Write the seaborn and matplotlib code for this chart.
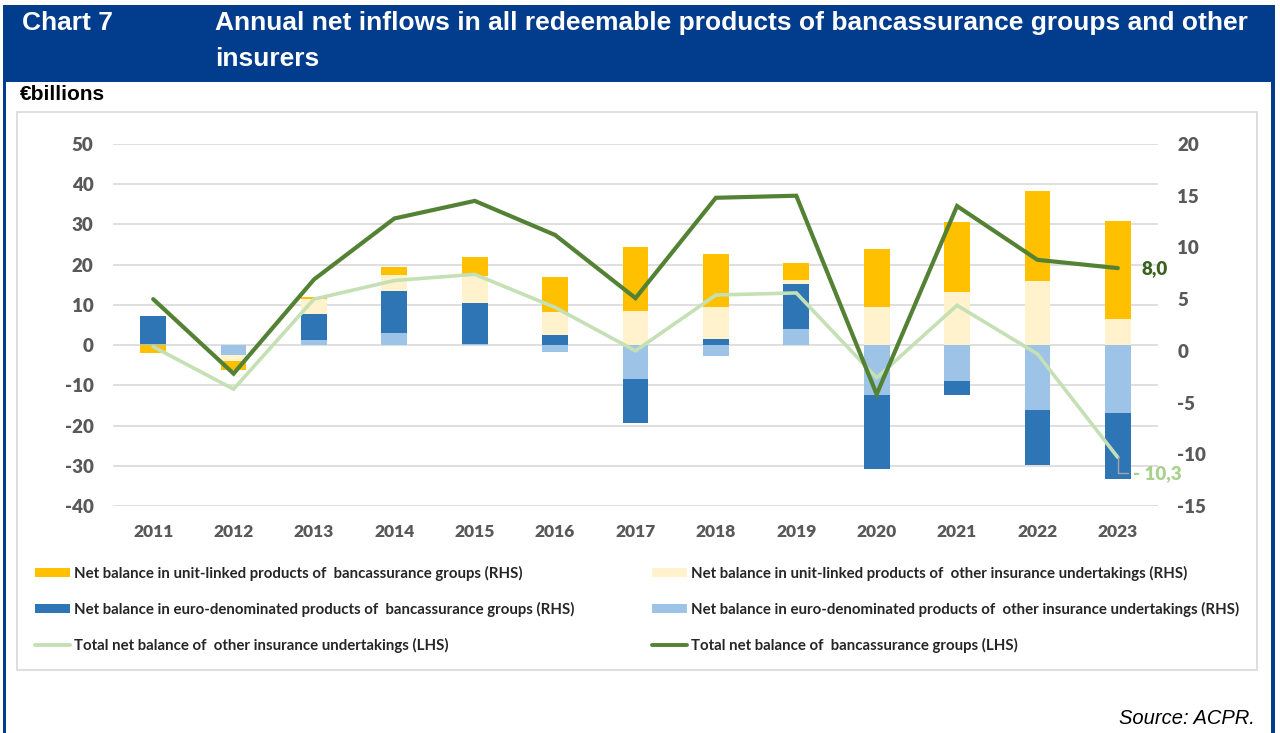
import matplotlib
matplotlib.use("Agg")
import matplotlib.pyplot as plt
from matplotlib.patches import Rectangle, Patch
from matplotlib.lines import Line2D
import numpy as np
import pandas as pd
import seaborn as sns

# ---- data (EUR billions) ----
years = ["2011", "2012", "2013", "2014", "2015", "2016", "2017",
         "2018", "2019", "2020", "2021", "2022", "2023"]
ul_banc = [-1.9, -2.2, 0.5, 2.0, 4.5, 8.7, 16.0, 13.3, 4.0, 14.4, 17.5, 22.3, 24.4]
ul_other = [0.0, -1.4, 3.8, 4.0, 6.9, 5.8, 8.4, 8.0, 1.2, 9.5, 13.1, 15.9, 6.5]
euro_banc = [7.1, 0.0, 6.5, 10.5, 10.0, 2.5, -10.8, 1.4, 11.0, -18.5, -3.5, -13.6, -16.4]
euro_other = [0.2, -2.5, 1.2, 3.0, 0.4, -1.6, -8.5, -2.6, 4.1, -12.3, -8.8, -16.1, -16.8]
total_banc = [5.0, -2.2, 6.9, 12.8, 14.5, 11.2, 5.1, 14.8, 15.0, -4.2, 14.0, 8.8, 8.0]
total_other = [0.4, -3.7, 5.0, 6.8, 7.4, 4.2, 0.0, 5.4, 5.6, -2.6, 4.4, -0.3, -10.3]

left_ticks = [-40, -30, -20, -10, 0, 10, 20, 30, 40, 50]
right_ticks = [-15, -10, -5, 0, 5, 10, 15, 20]

labels = {
    "ul_banc": "Net balance in unit-linked products of  bancassurance groups (RHS)",
    "ul_other": "Net balance in unit-linked products of  other insurance undertakings (RHS)",
    "euro_banc": "Net balance in euro-denominated products of  bancassurance groups (RHS)",
    "euro_other": "Net balance in euro-denominated products of  other insurance undertakings (RHS)",
    "total_other": "Total net balance of  other insurance undertakings (LHS)",
    "total_banc": "Total net balance of  bancassurance groups (LHS)",
}
colors = {
    "ul_banc": "#FFC000",
    "ul_other": "#FFF2CC",
    "euro_banc": "#2E75B6",
    "euro_other": "#9DC3E6",
    "total_other": "#C5E0B4",
    "total_banc": "#548235",
}

W, H = 1280, 733
sns.set_theme(style="white")
plt.rcParams["font.family"] = ["Lato", "DejaVu Sans"]
plt.rcParams["axes.unicode_minus"] = False

fig = plt.figure(figsize=(W / 100, H / 100), dpi=100)
fig.patch.set_facecolor("white")


def fx(px):
    return px / W


def fy(py):
    return 1 - py / H


# ---- page frame and header band ----
navy = "#023C8C"
fig.add_artist(Rectangle((fx(3), 0), fx(3), fy(5), transform=fig.transFigure,
                         facecolor=navy, edgecolor="none"))
fig.add_artist(Rectangle((fx(1271), 0), fx(4), fy(5), transform=fig.transFigure,
                         facecolor=navy, edgecolor="none"))
fig.add_artist(Rectangle((fx(3), fy(82)), fx(1272), fy(5) - fy(82),
                         transform=fig.transFigure, facecolor=navy, edgecolor="none"))
fig.add_artist(Rectangle((fx(17), fy(670)), fx(1240), fy(112) - fy(670),
                         transform=fig.transFigure, facecolor="none",
                         edgecolor="#D9D9D9", linewidth=1.2))

head_font = dict(family=["Liberation Sans", "DejaVu Sans"], weight="bold",
                 color="white", fontsize=19, va="center", ha="left")
fig.text(fx(22), fy(23), "Chart 7", **head_font)
fig.text(fx(215), fy(23), "Annual net inflows in all redeemable products of bancassurance groups and other",
         **head_font)
fig.text(fx(215), fy(59), "insurers", **head_font)
fig.text(fx(20), fy(95), "€billions", family=["Liberation Sans", "DejaVu Sans"],
         weight="bold", fontsize=15, color="black", va="center", ha="left")
fig.text(fx(1255), fy(718), "Source: ACPR.", family=["Liberation Sans", "DejaVu Sans"],
         style="italic", fontsize=14.5, color="black", va="center", ha="right")

# ---- plot area ----
ax = fig.add_axes([fx(113), fy(506), fx(1158) - fx(113), fy(144) - fy(506)])
ax2 = ax.twinx()

x = np.arange(len(years))
bar_w = 0.32

# stacked bars: positive and negative parts stacked separately, series order as drawn
stack_order = ["euro_other", "euro_banc", "ul_other", "ul_banc"]
series = {"ul_banc": ul_banc, "ul_other": ul_other,
          "euro_banc": euro_banc, "euro_other": euro_other}
pos_base = np.zeros(len(years))
neg_base = np.zeros(len(years))
for key in stack_order:
    vals = np.array(series[key], dtype=float)
    base = np.where(vals >= 0, pos_base, neg_base)
    ax.bar(x, vals, bottom=base, width=bar_w, color=colors[key],
           edgecolor="none", linewidth=0, zorder=2)
    pos_base = pos_base + np.where(vals >= 0, vals, 0)
    neg_base = neg_base + np.where(vals < 0, vals, 0)

ax.set_xlim(-0.5, len(years) - 0.5)
ax.set_ylim(-40, 50)
ax.set_yticks(left_ticks)
ax.set_xticks(x)
ax.set_xticklabels(years)
ax.yaxis.grid(True, color="#D9D9D9", linewidth=1.2)
ax.xaxis.grid(False)
ax.set_axisbelow(True)

# totals on the secondary scale
lines_df = pd.DataFrame({
    "x": np.concatenate([x, x]),
    "value": total_other + total_banc,
    "series": ["total_other"] * len(years) + ["total_banc"] * len(years),
})
sns.lineplot(data=lines_df[lines_df.series == "total_other"], x="x", y="value",
             ax=ax2, color=colors["total_other"], linewidth=2.6, legend=False,
             solid_joinstyle="miter", zorder=3)
sns.lineplot(data=lines_df[lines_df.series == "total_banc"], x="x", y="value",
             ax=ax2, color=colors["total_banc"], linewidth=3.0, legend=False,
             solid_joinstyle="miter", zorder=4)
ax2.set_ylim(-15, 20)
ax2.set_yticks(right_ticks)
ax2.set_xlim(-0.5, len(years) - 0.5)
ax2.set_ylabel("")
ax.set_xlabel("")
ax2.set_xlabel("")
ax2.grid(False)

for a in (ax, ax2):
    for s in a.spines.values():
        s.set_visible(False)
    a.tick_params(length=0)
ax.tick_params(axis="y", pad=14, labelsize=13.5, labelcolor="#595959")
ax.tick_params(axis="x", pad=13, labelsize=12.5, labelcolor="#595959")
ax2.tick_params(axis="y", pad=14, labelsize=13.5, labelcolor="#595959")
for lab in ax.get_yticklabels() + ax.get_xticklabels() + ax2.get_yticklabels():
    lab.set_fontweight("heavy")

# end-of-series labels
last = len(years) - 1
ax2.annotate("8,0", xy=(last, total_banc[-1]), xytext=(17, 0),
             textcoords="offset points", ha="left", va="center",
             fontsize=13.5, fontweight="heavy", color="#3B6120")
ax2.annotate("- 10,3", xy=(last, total_other[-1]), xytext=(11, -11.5),
             textcoords="offset points", ha="left", va="center",
             fontsize=13.5, fontweight="heavy", color="#A9D18E",
             arrowprops=dict(arrowstyle="-", color="#A6A6A6", linewidth=1,
                             shrinkA=1, shrinkB=0, relpos=(0, 0.5),
                             connectionstyle="angle,angleA=0,angleB=90,rad=0"))

# ---- legend (two columns) ----
def patch(key):
    return Patch(facecolor=colors[key], edgecolor="none", label=labels[key])


def line(key):
    return Line2D([0], [0], color=colors[key], linewidth=2.8, label=labels[key])


leg_kw = dict(frameon=False, handlelength=2.35, handleheight=0.55,
              handletextpad=0.27, labelspacing=1.38, borderaxespad=0, borderpad=0,
              prop=dict(family=["Lato", "DejaVu Sans"], weight="bold", size=10.8))
col1 = [patch("ul_banc"), patch("euro_banc"), line("total_other")]
col2 = [patch("ul_other"), patch("euro_other"), line("total_banc")]
fig.legend(handles=col1, loc="upper left", bbox_to_anchor=(fx(35), fy(566)), **leg_kw)
fig.legend(handles=col2, loc="upper left", bbox_to_anchor=(fx(652), fy(566)), **leg_kw)

fig.savefig("out.png", dpi=100, facecolor="white")
